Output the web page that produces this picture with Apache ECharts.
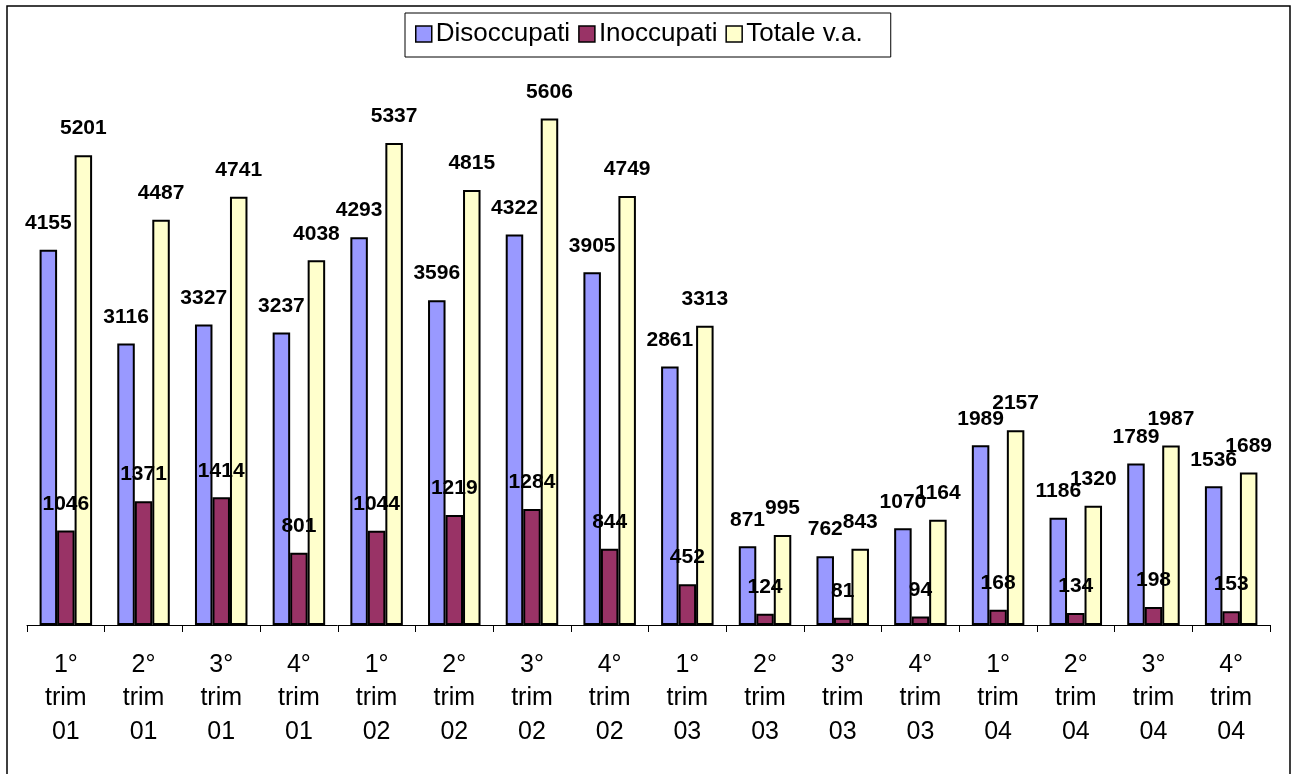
<!DOCTYPE html>
<html>
<head>
<meta charset="utf-8">
<script src="https://cdn.jsdelivr.net/npm/echarts@6/dist/echarts.min.js"></script>
<style>
html,body{margin:0;padding:0;background:#fff;}
#c{width:1292px;height:774px;}
</style>
</head>
<body>
<div id="c"></div>
<script>
const categories = ["1°\ntrim\n01","2°\ntrim\n01","3°\ntrim\n01","4°\ntrim\n01","1°\ntrim\n02","2°\ntrim\n02","3°\ntrim\n02","4°\ntrim\n02","1°\ntrim\n03","2°\ntrim\n03","3°\ntrim\n03","4°\ntrim\n03","1°\ntrim\n04","2°\ntrim\n04","3°\ntrim\n04","4°\ntrim\n04"];
const disoccupati = [4155,3116,3327,3237,4293,3596,4322,3905,2861,871,762,1070,1989,1186,1789,1536];
const inoccupati = [1046,1371,1414,801,1044,1219,1284,844,452,124,81,94,168,134,198,153];
const totale = [5201,4487,4741,4038,5337,4815,5606,4749,3313,995,843,1164,2157,1320,1987,1689];
const seriesNames = ["Disoccupati","Inoccupati","Totale v.a."];
const colors = ["#9999FF","#993366","#FFFFCC"];

const FONT = 'Arial, "Liberation Sans", sans-serif';
const chart = echarts.init(document.getElementById('c'), null, {renderer:'canvas'});
const labelCfg = {show:true, position:'top', distance:16, color:'#000', fontFamily:FONT, fontWeight:'bold', fontSize:21};
const mk = (name, data, color) => ({
  name, type:'bar', data, barWidth:17.5, barGap:'0%',
  itemStyle:{color, borderColor:'#000', borderWidth:2},
  label:labelCfg, emphasis:{disabled:true}
});
chart.setOption({
  animation:false,
  graphic:[{type:'rect', shape:{x:7,y:6,width:1283,height:820}, style:{fill:'none', stroke:'#000', lineWidth:1.5}, silent:true}],
  legend:{
    left:405, top:13,
    data:seriesNames,
    icon:'rect', itemWidth:16, itemHeight:16, itemGap:8,
    padding:[8,28,10,10],
    borderColor:'#000', borderWidth:1, backgroundColor:'#fff',
    textStyle:{fontFamily:FONT, fontSize:26, color:'#000', padding:[0,0,0,-1]},
    itemStyle:{borderColor:'#000', borderWidth:1.5}
  },
  grid:{left:27, right:22, top:83, bottom:149},
  xAxis:{
    type:'category', data:categories, boundaryGap:true,
    axisLine:{lineStyle:{color:'#000', width:1}},
    axisTick:{show:true, length:7, lineStyle:{color:'#000'}},
    axisLabel:{color:'#000', fontFamily:FONT, fontSize:25, lineHeight:33.5, margin:23, interval:0}
  },
  yAxis:{type:'value', min:0, max:6000, interval:1000, show:false, splitLine:{show:false}},
  series:[mk(seriesNames[0], disoccupati, colors[0]), mk(seriesNames[1], inoccupati, colors[1]), mk(seriesNames[2], totale, colors[2])]
});
</script>
</body>
</html>
